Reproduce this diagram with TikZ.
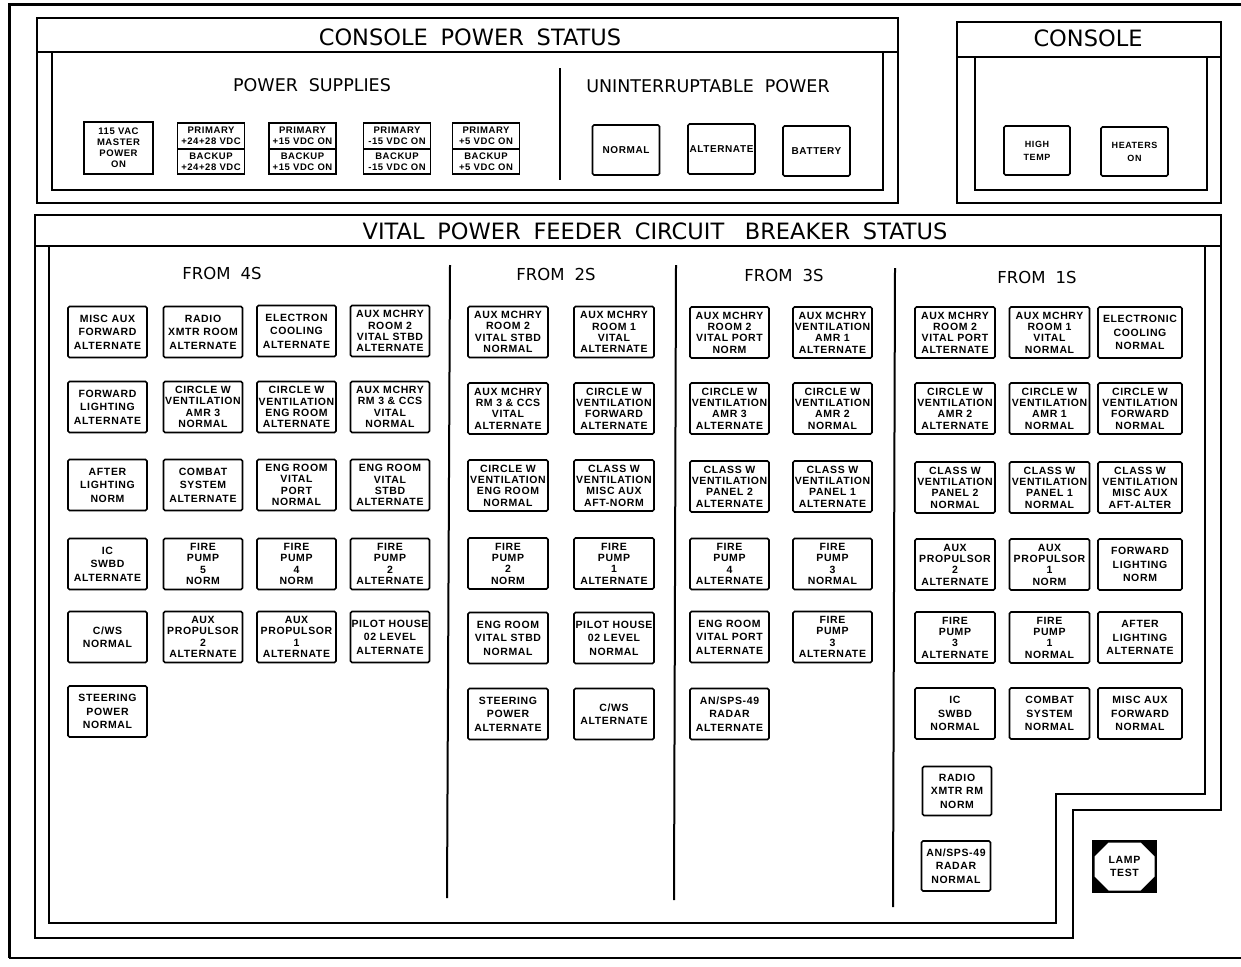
\documentclass[tikz,border=0pt]{standalone}
\usepackage{fontspec}
\usetikzlibrary{shapes.misc}
\newfontfamily\titlef{DejaVu Sans}
\newfontfamily\lampf{Liberation Sans}[LetterSpace=6]
\begin{document}
\begin{tikzpicture}[x=1pt,y=-1pt,
  frame/.style={line width=2pt, line join=miter},
  lamp/.style={draw, line width=1.6pt, rounded corners=1.5pt, inner sep=0pt, align=center,
    font=\lampf\bfseries\fontsize{10.5}{13.5}\selectfont},
  lampq/.style={lamp, font=\lampf\bfseries\fontsize{10.5}{11.3}\selectfont},
  psbox/.style={draw, line width=1.6pt, inner sep=0pt, align=center,
    font=\lampf\bfseries\fontsize{9.5}{11}\selectfont, minimum width=67pt},
  upsbox/.style={lamp, font=\lampf\bfseries\fontsize{10}{13}\selectfont, minimum width=67pt, minimum height=50pt},
  wa/.style={minimum width=79pt, minimum height=51pt},
  wb/.style={minimum width=80pt, minimum height=51pt},
  wc/.style={minimum width=84pt, minimum height=51pt},
  wd/.style={minimum width=69pt, minimum height=49pt},
  maintitle/.style={font=\titlef\fontsize{22.5}{26}\selectfont},
  subtitle/.style={font=\titlef\fontsize{17.5}{20}\selectfont},
  colhead/.style={font=\titlef\fontsize{16.5}{20}\selectfont}
]
\useasboundingbox (0,0) rectangle (1241,966);
\fill[white] (0,0) rectangle (1241,966);

% outer panel border
\draw[line width=3pt] (1241,5) -- (9,5) -- (9,958);
\draw[line width=1.2pt] (9,958) -- (1241,958);

% ---------------- CONSOLE POWER STATUS ----------------
\draw[frame] (37,18) rectangle (898,203);
\draw[frame] (37,52) -- (898,52);
\draw[frame] (52,52) -- (52,190) -- (883,190) -- (883,52);
\node[maintitle] (tcps) at (470,37) {CONSOLE\hspace{0.25em} POWER\hspace{0.25em} STATUS};
\node[subtitle] (tps) at (312,85) {POWER\hspace{0.3em} SUPPLIES};
\node[subtitle] (tups) at (708,86) {UNINTERRUPTABLE\hspace{0.3em} POWER};
\draw[line width=2pt] (560,68) -- (560,180);

\node[psbox, minimum width=69pt, minimum height=52pt, font=\lampf\bfseries\fontsize{9.5}{11}\selectfont] (ps115) at (118.5,148) {115 VAC\\MASTER\\POWER\\ON};
\node[psbox, minimum height=26pt] (p24a) at (211,136) {PRIMARY\\+24+28 VDC};
\node[psbox, minimum height=25pt] (p24b) at (211,161.5) {BACKUP\\+24+28 VDC};
\node[psbox, minimum height=26pt] (p15a) at (302.5,136) {PRIMARY\\+15 VDC ON};
\node[psbox, minimum height=25pt] (p15b) at (302.5,161.5) {BACKUP\\+15 VDC ON};
\node[psbox, minimum height=26pt] (m15a) at (397,136) {PRIMARY\\-15 VDC ON};
\node[psbox, minimum height=25pt] (m15b) at (397,161.5) {BACKUP\\-15 VDC ON};
\node[psbox, minimum height=26pt] (p5a) at (486,136) {PRIMARY\\+5 VDC ON};
\node[psbox, minimum height=25pt] (p5b) at (486,161.5) {BACKUP\\+5 VDC ON};

\node[upsbox] (upsn) at (626,150) {NORMAL};
\node[upsbox] (upsa) at (721.5,149) {ALTERNATE};
\node[upsbox] (upsb) at (816.5,151) {BATTERY};

% ---------------- CONSOLE ----------------
\draw[frame] (957,22) rectangle (1221,203);
\draw[frame] (957,57) -- (1221,57);
\draw[frame] (975,57) -- (975,190) -- (1207,190) -- (1207,57);
\node[maintitle] (tcon) at (1088,38) {CONSOLE};
\node[lamp, minimum width=66pt, minimum height=49pt, font=\lampf\bfseries\fontsize{9}{13}\selectfont] (hight) at (1037,150.5) {HIGH\\TEMP};
\node[lamp, minimum width=67pt, minimum height=49pt, font=\lampf\bfseries\fontsize{9}{13}\selectfont] (heat) at (1134.5,151.5) {HEATERS\\ON};

% ---------------- VITAL POWER FEEDER ----------------
\draw[frame] (35,215) rectangle (1221,246);
\node[maintitle] (tvit) at (655,231) {VITAL\hspace{0.25em} POWER\hspace{0.25em} FEEDER\hspace{0.25em} CIRCUIT\hspace{0.6em} BREAKER\hspace{0.25em} STATUS};
\draw[frame] (35,246) -- (35,938) -- (1073,938) -- (1073,810) -- (1221,810) -- (1221,246);
\draw[frame] (49,246) -- (49,923) -- (1056,923) -- (1056,794) -- (1205,794) -- (1205,246);

\draw[line width=2pt] (450,265) -- (447,898);
\draw[line width=2pt] (676,265) -- (674,900);
\draw[line width=2pt] (895,268) -- (893,907);

\node[colhead] (h4) at (222,273) {FROM\hspace{0.6em}4S};
\node[colhead] (h2) at (556,274) {FROM\hspace{0.6em}2S};
\node[colhead] (h3) at (784,275) {FROM\hspace{0.6em}3S};
\node[colhead] (h1) at (1037,277) {FROM\hspace{0.6em}1S};

% FROM 4S
\node[lamp,wa]  (a11) at (107.5,332) {MISC AUX\\FORWARD\\ALTERNATE};
\node[lamp,wa]  (a12) at (203,332) {RADIO\\XMTR ROOM\\ALTERNATE};
\node[lamp,wa]  (a13) at (296.5,331) {ELECTRON\\COOLING\\ALTERNATE};
\node[lampq,wa] (a14) at (390,331) {AUX MCHRY\\ROOM 2\\VITAL STBD\\ALTERNATE};
\node[lamp,wa]  (a21) at (107.5,407) {FORWARD\\LIGHTING\\ALTERNATE};
\node[lampq,wa] (a22) at (203,407) {CIRCLE W\\VENTILATION\\AMR 3\\NORMAL};
\node[lampq,wa] (a23) at (296.5,407) {CIRCLE W\\VENTILATION\\ENG ROOM\\ALTERNATE};
\node[lampq,wa] (a24) at (390,407) {AUX MCHRY\\RM 3 \& CCS\\VITAL\\NORMAL};
\node[lamp,wa]  (a31) at (107.5,485) {AFTER\\LIGHTING\\NORM};
\node[lamp,wa]  (a32) at (203,485) {COMBAT\\SYSTEM\\ALTERNATE};
\node[lampq,wa] (a33) at (296.5,485) {ENG ROOM\\VITAL\\PORT\\NORMAL};
\node[lampq,wa] (a34) at (390,485) {ENG ROOM\\VITAL\\STBD\\ALTERNATE};
\node[lamp,wa]  (a41) at (107.5,564) {IC\\SWBD\\ALTERNATE};
\node[lampq,wa] (a42) at (203,564) {FIRE\\PUMP\\5\\NORM};
\node[lampq,wa] (a43) at (296.5,564) {FIRE\\PUMP\\4\\NORM};
\node[lampq,wa] (a44) at (390,564) {FIRE\\PUMP\\2\\ALTERNATE};
\node[lamp,wa]  (a51) at (107.5,637) {C/WS\\NORMAL};
\node[lampq,wa] (a52) at (203,637) {AUX\\PROPULSOR\\2\\ALTERNATE};
\node[lampq,wa] (a53) at (296.5,637) {AUX\\PROPULSOR\\1\\ALTERNATE};
\node[lamp,wa]  (a54) at (390,637) {PILOT HOUSE\\02 LEVEL\\ALTERNATE};
\node[lamp,wa]  (a61) at (107.5,711.5) {STEERING\\POWER\\NORMAL};

% FROM 2S
\node[lampq,wb] (b11) at (508,332) {AUX MCHRY\\ROOM 2\\VITAL STBD\\NORMAL};
\node[lampq,wb] (b12) at (614,332) {AUX MCHRY\\ROOM 1\\VITAL\\ALTERNATE};
\node[lampq,wb] (b21) at (508,408.5) {AUX MCHRY\\RM 3 \& CCS\\VITAL\\ALTERNATE};
\node[lampq,wb] (b22) at (614,408.5) {CIRCLE W\\VENTILATION\\FORWARD\\ALTERNATE};
\node[lampq,wb] (b31) at (508,485.5) {CIRCLE W\\VENTILATION\\ENG ROOM\\NORMAL};
\node[lampq,wb] (b32) at (614,485.5) {CLASS W\\VENTILATION\\MISC AUX\\AFT-NORM};
\node[lampq,wb] (b41) at (508,563.5) {FIRE\\PUMP\\2\\NORM};
\node[lampq,wb] (b42) at (614,563.5) {FIRE\\PUMP\\1\\ALTERNATE};
\node[lamp,wb]  (b51) at (508,638) {ENG ROOM\\VITAL STBD\\NORMAL};
\node[lamp,wb]  (b52) at (614,638) {PILOT HOUSE\\02 LEVEL\\NORMAL};
\node[lamp,wb]  (b61) at (508,714) {STEERING\\POWER\\ALTERNATE};
\node[lamp,wb]  (b62) at (614,714) {C/WS\\ALTERNATE};

% FROM 3S
\node[lampq,wa] (c11) at (729.5,332.5) {AUX MCHRY\\ROOM 2\\VITAL PORT\\NORM};
\node[lampq,wa] (c12) at (832.5,332.5) {AUX MCHRY\\VENTILATION\\AMR 1\\ALTERNATE};
\node[lampq,wa] (c21) at (729.5,408.5) {CIRCLE W\\VENTILATION\\AMR 3\\ALTERNATE};
\node[lampq,wa] (c22) at (832.5,408.5) {CIRCLE W\\VENTILATION\\AMR 2\\NORMAL};
\node[lampq,wa] (c31) at (729.5,486.5) {CLASS W\\VENTILATION\\PANEL 2\\ALTERNATE};
\node[lampq,wa] (c32) at (832.5,486.5) {CLASS W\\VENTILATION\\PANEL 1\\ALTERNATE};
\node[lampq,wa] (c41) at (729.5,564) {FIRE\\PUMP\\4\\ALTERNATE};
\node[lampq,wa] (c42) at (832.5,564) {FIRE\\PUMP\\3\\NORMAL};
\node[lamp,wa]  (c51) at (729.5,637) {ENG ROOM\\VITAL PORT\\ALTERNATE};
\node[lampq,wa] (c52) at (832.5,637) {FIRE\\PUMP\\3\\ALTERNATE};
\node[lamp,wa]  (c61) at (729.5,714) {AN/SPS-49\\RADAR\\ALTERNATE};

% FROM 1S
\node[lampq,wb] (d11) at (955,332.5) {AUX MCHRY\\ROOM 2\\VITAL PORT\\ALTERNATE};
\node[lampq,wb] (d12) at (1049.5,332.5) {AUX MCHRY\\ROOM 1\\VITAL\\NORMAL};
\node[lamp,wc]  (d13) at (1140,332.5) {ELECTRONIC\\COOLING\\NORMAL};
\node[lampq,wb] (d21) at (955,408.5) {CIRCLE W\\VENTILATION\\AMR 2\\ALTERNATE};
\node[lampq,wb] (d22) at (1049.5,408.5) {CIRCLE W\\VENTILATION\\AMR 1\\NORMAL};
\node[lampq,wc] (d23) at (1140,408.5) {CIRCLE W\\VENTILATION\\FORWARD\\NORMAL};
\node[lampq,wb] (d31) at (955,487.5) {CLASS W\\VENTILATION\\PANEL 2\\NORMAL};
\node[lampq,wb] (d32) at (1049.5,487.5) {CLASS W\\VENTILATION\\PANEL 1\\NORMAL};
\node[lampq,wc] (d33) at (1140,487.5) {CLASS W\\VENTILATION\\MISC AUX\\AFT-ALTER};
\node[lampq,wb] (d41) at (955,564.5) {AUX\\PROPULSOR\\2\\ALTERNATE};
\node[lampq,wb] (d42) at (1049.5,564.5) {AUX\\PROPULSOR\\1\\NORM};
\node[lamp,wc]  (d43) at (1140,564.5) {FORWARD\\LIGHTING\\NORM};
\node[lampq,wb] (d51) at (955,637.5) {FIRE\\PUMP\\3\\ALTERNATE};
\node[lampq,wb] (d52) at (1049.5,637.5) {FIRE\\PUMP\\1\\NORMAL};
\node[lamp,wc]  (d53) at (1140,637.5) {AFTER\\LIGHTING\\ALTERNATE};
\node[lamp,wb]  (d61) at (955,713.5) {IC\\SWBD\\NORMAL};
\node[lamp,wb]  (d62) at (1049.5,713.5) {COMBAT\\SYSTEM\\NORMAL};
\node[lamp,wc]  (d63) at (1140,713.5) {MISC AUX\\FORWARD\\NORMAL};
\node[lamp,wd]  (d71) at (957,791) {RADIO\\XMTR RM\\NORM};
\node[lamp,wd, minimum height=50pt] (d81) at (956,866) {AN/SPS-49\\RADAR\\NORMAL};

% LAMP TEST
\node[fill=black, minimum width=65pt, minimum height=53pt, inner sep=0pt] (ltbg) at (1124.5,866.5) {};
\node[chamfered rectangle, chamfered rectangle xsep=7pt, chamfered rectangle ysep=7pt,
  fill=white, minimum width=60pt, minimum height=48pt, inner sep=0pt, align=center,
  font=\lampf\bfseries\fontsize{10.5}{13}\selectfont] (lt) at (ltbg.center) {LAMP\\TEST};
\end{tikzpicture}
\end{document}
